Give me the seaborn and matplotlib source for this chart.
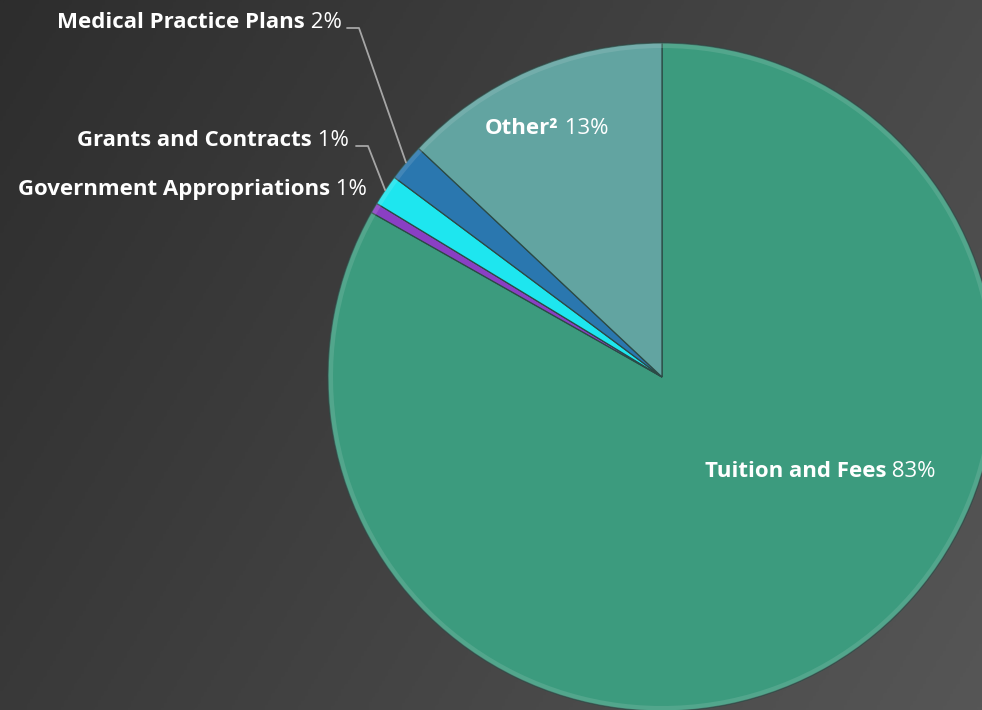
import numpy as np
import seaborn as sns
import matplotlib.pyplot as plt
from matplotlib.lines import Line2D
from matplotlib.transforms import IdentityTransform

# data
categories = ["Tuition and Fees", "Government Appropriations", "Grants and Contracts",
              "Medical Practice Plans", "Other²"]
shares = [83.2, 0.5, 1.5, 1.8, 13.0]
pct_labels = ["83%", "1%", "1%", "2%", "13%"]
colors = ["#3c9b7e", "#8a3fc4", "#1ee6ef", "#2a77af", "#62a4a1"]

sns.set_theme(style="dark")
plt.rcParams["font.family"] = ["Open Sans", "DejaVu Sans"]

W, H = 982, 710
fig = plt.figure(figsize=(W / 100, H / 100), dpi=100)

# dark diagonal gradient background
bg = fig.add_axes([0, 0, 1, 1])
gx, gy = np.meshgrid(np.linspace(0, 1, 300), np.linspace(0, 1, 300))
bg_cmap = sns.blend_palette(["#2d2d2d", "#565656"], as_cmap=True)
bg.imshow(0.7 * gx + 0.3 * gy, cmap=bg_cmap, aspect="auto", extent=[0, 1, 0, 1])
bg.axis("off")

# pie
cx, cy, r = 662, 377, 334
ax = fig.add_axes([(cx - r) / W, (H - cy - r) / H, 2 * r / W, 2 * r / H])
wedges, _ = ax.pie(shares, colors=colors, startangle=90, counterclock=False,
                   wedgeprops=dict(edgecolor="#2c4a45", linewidth=0.9))
# faint rim for a little bevel look
rim = [sns.light_palette(c, 3, reverse=True)[1] for c in colors]
ax.pie(shares, colors=rim, startangle=90, counterclock=False, radius=1.0,
       wedgeprops=dict(width=0.015, edgecolor="none", alpha=0.25))
ax.set_xlim(-1, 1)
ax.set_ylim(-1, 1)
ax.axis("off")

renderer = fig.canvas.get_renderer()
FS = 16


def to_disp(x, y):
    return x, H - y


def label(x, y, bold, normal, ha):
    # bold name + normal percentage, in image pixel coords (baseline y)
    dx, dy = to_disp(x, y)
    if ha == "right":
        t = fig.text(dx, dy, " " + normal, transform=IdentityTransform(), ha="right",
                     va="baseline", color="white", fontsize=FS)
        w = t.get_window_extent(renderer).width
        fig.text(dx - w, dy, bold, transform=IdentityTransform(), ha="right",
                 va="baseline", color="white", fontsize=FS, fontweight="bold")
    else:
        t = fig.text(dx, dy, bold, transform=IdentityTransform(), ha="left",
                     va="baseline", color="white", fontsize=FS, fontweight="bold")
        w = t.get_window_extent(renderer).width
        fig.text(dx + w, dy, " " + normal, transform=IdentityTransform(), ha="left",
                 va="baseline", color="white", fontsize=FS)


def leader(wedge, x0, y0, x1, y1):
    mid = np.deg2rad((wedge.theta1 + wedge.theta2) / 2)
    px, py = ax.transData.transform((np.cos(mid), np.sin(mid)))
    xs = [x0, x1, px]
    ys = [H - y0, H - y1, py]
    fig.add_artist(Line2D(xs, ys, transform=IdentityTransform(), color="#a6a6a6", lw=1.3))


label(705, 477, categories[0], pct_labels[0], "left")
label(485, 134, categories[4], pct_labels[4], "left")
label(342, 28, categories[3], pct_labels[3], "right")
label(349, 146, categories[2], pct_labels[2], "right")
label(367, 195, categories[1], pct_labels[1], "right")

leader(wedges[3], 347, 28, 359, 28)
leader(wedges[2], 356, 146, 368, 146)

fig.savefig("out.png", dpi=100)
